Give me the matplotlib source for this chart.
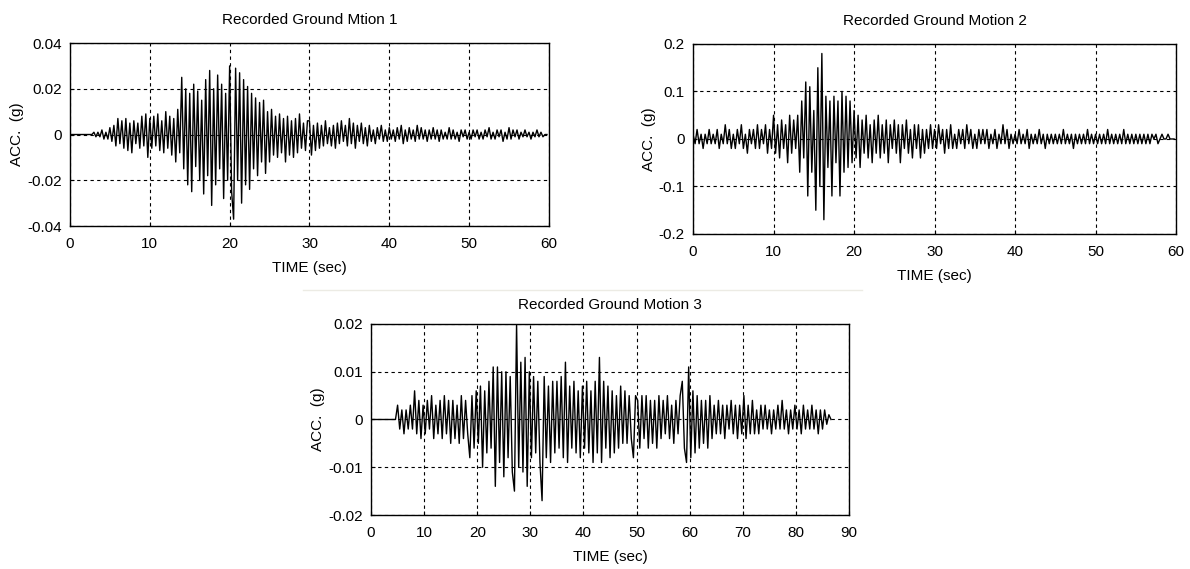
import numpy as np
import matplotlib.pyplot as plt
from matplotlib.lines import Line2D

plt.rcParams['font.family'] = ['Liberation Sans Narrow', 'Liberation Sans', 'DejaVu Sans']

# record 1: dt = 0.25 s, units of 0.001 g
dt1 = 0.25
acc1 = [
    0, 0, 0, 0, 0, 0, 0, 0, 0, 0, 0, 0, 1, -1, 1, -1, 2, -2, 1, -2,
    3, -3, 4, -5, 7, -4, 6, -6, 7, -7, 5, -8, 6, -4, 5, -6, 8, -5, 9, -10,
    7, -6, 8, -5, 9, -7, 6, -8, 10, -6, 8, -9, 7, -12, 11, -8, 25, -15, 20, -22,
    18, -25, 22, -14, 19, -20, 15, -26, 24, -18, 28, -31, 20, -22, 26, -15, 22, -28, 18, -20,
    30, -25, -37, 29, -20, 27, -30, 24, -22, 21, -24, 18, -15, 16, -18, 14, -12, 15, -17, 10,
    -12, 11, -9, 8, -10, 9, -8, 7, -12, 8, -9, 6, -10, 7, -8, 9, -6, 5, -7, 6,
    6, -9, 4, -7, 5, -6, 4, -5, 6, -4, 3, -5, 4, -6, 5, -4, 6, -3, 4, -5,
    7, -4, 5, -6, 4, -3, 5, -4, 3, -5, 4, -3, 2, -4, 3, -2, 4, -3, 2, -3,
    3, -2, 2, -3, 3, -2, 4, -4, 2, -3, 3, -2, 2, -3, 4, -2, 3, -2, 2, -3,
    2, -2, 3, -2, 2, -3, 2, -2, 1, -2, 3, -2, 2, -2, 1, -3, 2, -1, 2, -2,
    1, -2, 2, -1, 2, -2, 1, -2, 2, -1, 3, -2, 1, -2, 2, -1, 2, -3, 1, -2,
    3, -2, 2, -1, 2, -2, 1, -1, 2, -1, 1, -2, 1, -1, 2, -1, 1, -1, 0, 0,
]

# record 2: dt = 0.25 s, units of 0.01 g
dt2 = 0.25
acc2 = [
    1, -1, 2, -1, 1, -2, 1, -1, 2, -1, 1, -1, 2, -2, 1, -1, 3, -1, 2, -2,
    1, -2, 2, -1, 3, -2, 1, -3, 2, -1, 2, -2, 3, -2, 2, -1, 3, -3, 2, -2,
    5, -3, 3, -4, 4, -2, 3, -5, 5, -3, 4, -2, 5, -7, 8, -4, 12, -12, 11, -7,
    6, -15, 15, -10, 18, -17, 9, -6, 8, -12, 9, -5, 8, -12, 10, -7, 9, -6, 8, -5,
    6, -4, 5, -6, 4, -3, 5, -4, 3, -5, 4, -3, 5, -4, 3, -3, 4, -5, 3, -2,
    4, -3, 3, -5, 3, -2, 4, -3, 2, -4, 3, -2, 3, -4, 2, -3, 2, -2, 3, -2,
    2, -2, 3, -1, 2, -3, 2, -2, 3, -2, 1, -2, 2, -1, 2, -2, 3, -1, 2, -2,
    1, -2, 2, -1, 2, -1, 2, -2, 1, -1, 2, -2, 1, -1, 3, -1, 2, -2, 1, -1,
    1, -1, 2, -1, 1, -1, 2, -2, 1, -1, 1, -1, 2, -1, 1, -2, 1, -1, 1, -1,
    1, -1, 1, -1, 2, -1, 1, -1, 1, -2, 1, -1, 1, -1, 1, -1, 2, -1, 1, -1,
    1, -1, 1, -1, 1, -1, 2, -1, 1, -1, 1, -1, 1, -1, 2, -1, 1, -1, 1, -1,
    1, -1, 1, -1, 1, -1, 1, -1, 1, 0, 1, -1, 0, 1, 0, 0, 1, 0, 0, 0,
]

# record 3: zero before 4.6 s, then dt = 0.4 s, units of 0.001 g
t0_3 = 4.6
dt3 = 0.4
acc3 = [
    0,
    3, -2, 2, -3, 2, -2, 3, -2, 6, -3, 4, -4, 3, -3, 4, -2, 5, -4, 3, -3, 4, -4, 5, -3, 4,
    -5, 4, -4, 3, -5, 5, -4, 4, -3, -8, 5, -6, 6, -5, 7, -10, 6, -7, 8, -6, 11, -14, 11, -9, 10,
    -12, 10, -8, 9, -11, -15, 20, -10, 12, -11, 13, -14, 10, -8, 9, -7, 8, -9, -17, 9, -8, 7, -9, 8, -7,
    8, -6, 9, -8, 12, -9, 7, -6, 8, -7, 6, -8, 7, -6, 8, -7, 6, -9, 8, -7, 13, -9, 8, -6, 7,
    -8, 6, -7, 5, -6, 7, -5, 6, -5, 5, -4, -8, 5, 4, -6, 5, -4, 5, -6, 4, -5, 4, -6, 5, -4,
    4, -3, 5, -4, 3, -5, 4, -3, 5, 8, -6, -9, 11, -8, 6, -7, 5, -6, 4, -5, 4, -6, 5, -4, 3,
    -3, 4, -3, 3, -4, 3, -2, 4, -3, 3, -4, 3, -3, 5, -4, 3, -3, 4, -3, 2, -3, 3, -2, 3, -2,
    2, -3, 2, -2, 3, -2, 4, -2, 2, -3, 2, -2, 3, -2, 2, -3, 3, -2, 2, -2, 3, -2, 2, -3, 2,
    -2, 2, -1, 1, 0,
]

titles = ['Recorded Ground Mtion 1', 'Recorded Ground Motion 2', 'Recorded Ground Motion 3']
xticks_60 = [0, 10, 20, 30, 40, 50, 60]
xticks_90 = [0, 10, 20, 30, 40, 50, 60, 70, 80, 90]
yticks1 = [-0.04, -0.02, 0, 0.02, 0.04]
ylabels1 = ['-0.04', '-0.02', '0', '0.02', '0.04']
yticks2 = [-0.2, -0.1, 0, 0.1, 0.2]
ylabels2 = ['-0.2', '-0.1', '0', '0.1', '0.2']
yticks3 = [-0.02, -0.01, 0, 0.01, 0.02]
ylabels3 = ['-0.02', '-0.01', '0', '0.01', '0.02']

t1 = np.arange(len(acc1)) * dt1
a1 = np.array(acc1) * 0.001
t2 = np.arange(len(acc2)) * dt2
a2 = np.array(acc2) * 0.01
t3 = np.concatenate([[0.0], t0_3 + np.arange(len(acc3)) * dt3])
a3 = np.concatenate([[0.0], np.array(acc3) * 0.001])

fig = plt.figure(figsize=(11.9, 5.69), dpi=100)
ax1 = fig.add_axes([0.0588, 0.6028, 0.4025, 0.3216])
ax2 = fig.add_axes([0.5824, 0.5888, 0.4059, 0.3339])
ax3 = fig.add_axes([0.3118, 0.0949, 0.4017, 0.3357])

setups = [
    (ax1, t1, a1, xticks_60, yticks1, ylabels1, titles[0], 14),
    (ax2, t2, a2, xticks_60, yticks2, ylabels2, titles[1], 14),
    (ax3, t3, a3, xticks_90, yticks3, ylabels3, titles[2], 11),
]

for ax, t, a, xt, yt, yl, title, tpad in setups:
    ax.plot(t, a, color='black', lw=1.0)
    ax.set_xlim(xt[0], xt[-1])
    ax.set_ylim(yt[0], yt[-1])
    ax.set_xticks(xt)
    ax.set_yticks(yt, yl)
    ax.grid(True, color='black', linestyle=(0, (3, 3)), linewidth=0.8)
    ax.tick_params(direction='in', length=3, labelsize=11, colors='black')
    ax.tick_params(axis='x', pad=8)
    ax.tick_params(axis='y', pad=6)
    for s in ax.spines.values():
        s.set_linewidth(1.0)
    ax.set_title(title, fontsize=11, pad=tpad)
    ax.set_xlabel('TIME (sec)', fontsize=11, labelpad=7)
    ax.set_ylabel('ACC.  (g)', fontsize=11, labelpad=2)

# faint separator line from the original composite image
fig.add_artist(Line2D([303 / 1190, 862 / 1190], [1 - 290 / 569, 1 - 290 / 569],
                      color='#ecebe4', lw=1.0))

fig.savefig('out.png', dpi=100)
